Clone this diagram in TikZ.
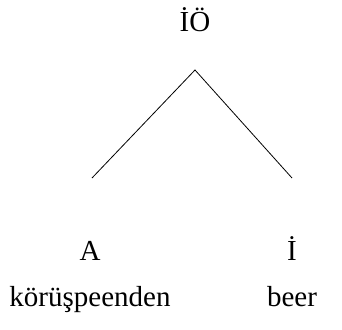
\documentclass[tikz,border=0pt]{standalone}
\usepackage{fontspec}
\setmainfont{Liberation Serif}
\begin{document}
\begin{tikzpicture}[x=1pt,y=-1pt,
  lbl/.style={inner sep=0pt,anchor=base,font=\fontsize{29}{34}\selectfont},
  edge/.style={line width=0.8pt}]
\useasboundingbox (0,0) rectangle (342,329);
\node[lbl] (root) at (195,31) {İÖ};
\coordinate (apex) at (195,70);
\coordinate (lend) at (92,178);
\coordinate (rend) at (292,178);
\draw[edge] (lend) -- (apex) -- (rend);
\node[lbl] (a) at (90,260) {A};
\node[lbl] (i) at (292,260) {İ};
\node[lbl] (w1) at (90,306) {körüşpeenden};
\node[lbl] (w2) at (292,306) {beer};
\end{tikzpicture}
\end{document}
